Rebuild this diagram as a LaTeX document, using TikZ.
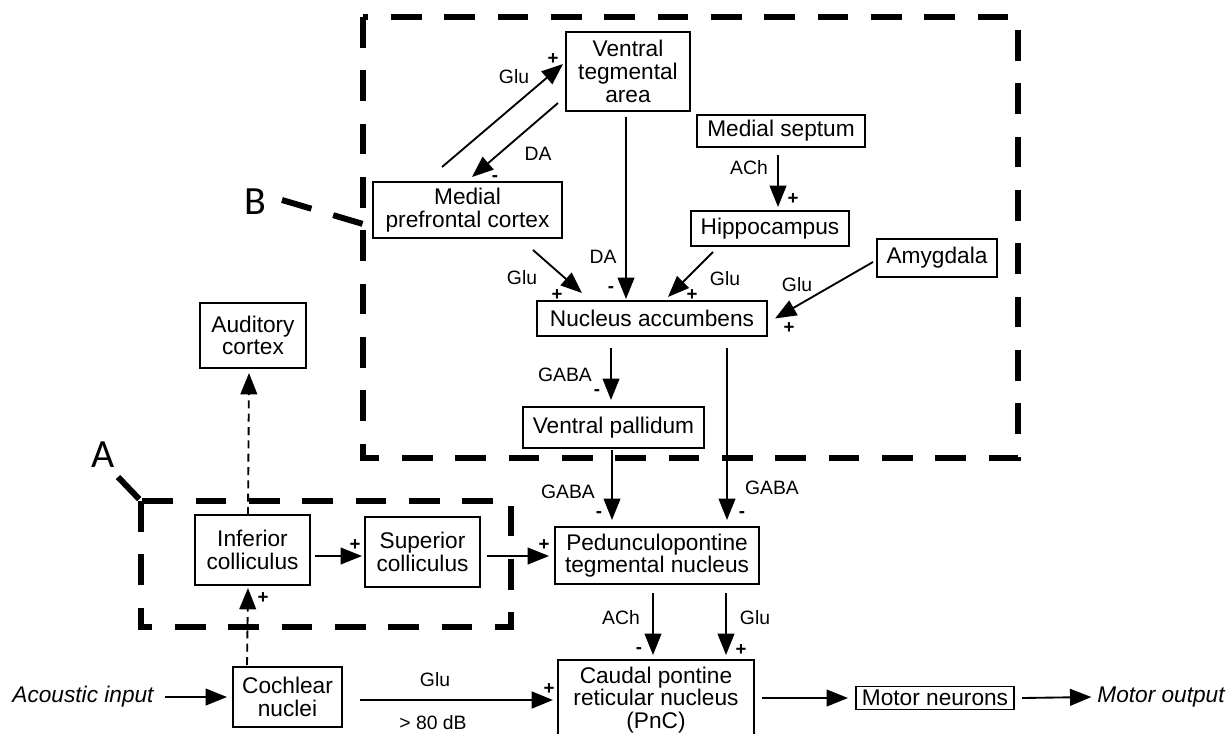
\documentclass[tikz,border=0pt]{standalone}
\usepackage{fontspec}
\setmainfont{Liberation Sans}
\newfontfamily\carl{Carlito}
\usetikzlibrary{arrows.meta,calc}
\newcommand\nodefnt{\fontsize{17}{17}\selectfont}
\newcommand\labfnt{\fontsize{14.5}{14.5}\selectfont}
\newcommand\sgnfnt{\fontsize{14}{14}\selectfont\bfseries}
\newcommand\bigfnt{\carl\fontsize{30}{30}\selectfont}
\tikzset{
  box/.style={draw, line width=1.2pt, align=center, inner sep=0pt, outer sep=0pt, font=\nodefnt},
  sz/.style 2 args={minimum width=#1*0.75pt, minimum height=#2*0.75pt},
  arr/.style={line width=1.4pt, -{Triangle[length=16pt,width=12.5pt]}},
  darr/.style={arr, dash pattern=on 6pt off 4pt},
  lab/.style={font=\labfnt, inner sep=0pt},
  sgn/.style={font=\sgnfnt, inner sep=0pt},
  frame/.style={line width=4.5pt, dash pattern=on 23pt off 17pt},
  bigl/.style={font=\bigfnt, inner sep=0pt},
  ital/.style={font=\nodefnt\itshape, inner sep=0pt, outer sep=0pt},
}
\begin{document}
\begin{tikzpicture}[x=0.75pt,y=-0.75pt]
\useasboundingbox (0,0) rectangle (1230,733);
\clip (0,0) rectangle (1230,733);
\fill[white] (0,0) rectangle (1230,733);

% frames
\coordinate (Btl) at (363,17);
\coordinate (Bbr) at (1018,458);
\coordinate (Atl) at (141,501);
\coordinate (Abr) at (511,627);
\draw[frame] (Btl) rectangle (Bbr);
\draw[frame] (Atl) rectangle (Abr);
\node[bigl] (Blab) at (255,202) {B};
\node[bigl] (Alab) at (103,455) {A};
\coordinate (bp1) at (282,200);
\coordinate (bp2) at (363,224);
\coordinate (ap1) at (118,477);
\coordinate (ap2) at (141,501);
\draw[frame] (bp1) -- (bp2);
\draw[frame] (ap1) -- (ap2);

% nodes
\node[box, sz={124}{79}] (vta) at (628,71.5) {Ventral\\tegmental\\area};
\node[box, sz={189}{56}] (mpfc) at (467.5,210) {Medial\\prefrontal cortex};
\node[box, sz={168}{32}] (ms) at (781,131) {Medial septum};
\node[box, sz={158}{35}] (hip) at (770,228.5) {Hippocampus};
\node[box, sz={120}{38}] (amy) at (937,258) {Amygdala};
\node[box, sz={230}{35}] (nac) at (652,318.5) {Nucleus accumbens};
\node[box, sz={181}{41}] (vp) at (613.5,427.5) {Ventral pallidum};
\node[box, sz={106}{65}] (ac) at (253,335.5) {Auditory\\cortex};
\node[box, sz={115}{70}] (ic) at (252.5,550) {Inferior\\colliculus};
\node[box, sz={115}{70}] (sc) at (422.5,552) {Superior\\colliculus};
\node[box, sz={204}{57}] (ppt) at (657,555.5) {Pedunculopontine\\tegmental nucleus};
\node[box, sz={109}{60}] (coch) at (287.5,697) {Cochlear\\nuclei};
\node[box, sz={196}{80}] (pnc) at (656,700) {Caudal pontine\\reticular nucleus\\(PnC)};
\node[box, sz={158}{23}] (mn) at (935,698) {Motor neurons};
\node[ital] (acin) at (83,697) {Acoustic input};
\node[ital] (mout) at (1161,697) {Motor output};

% connectors
\draw[arr] ($(mpfc.north)+(-25.5,-15)$) -- ($(vta.west)+(-3,-7.5)$);
\draw[arr] ($(vta.west)+(-8,31.5)$) -- ($(mpfc.north)+(4.5,-5)$);
\draw[arr] ($(vta.south)+(-2,6)$) -- ($(nac.north)+(-26,-2)$);
\draw[arr] ($(mpfc.south)+(65.5,12)$) -- ($(nac.north)+(-70,-8)$);
\draw[arr] ($(hip.south)+(-57,6)$) -- ($(nac.north)+(16,-4)$);
\draw[arr] ($(ms.south)+(-3,8)$) -- ($(hip.north)+(8,-4)$);
\draw[arr] ($(amy.west)+(-4,4)$) -- ($(nac.east)+(8,0)$);
\draw[arr] ($(nac.south)+(-41,12)$) -- ($(vp.north)+(-2.5,-7)$);
\draw[arr] ($(vp.south)+(-1.5,2)$) -- ($(ppt.north)+(-45,-7)$);
\draw[arr] ($(nac.south)+(75,12)$) -- ($(ppt.north)+(70,-7)$);
\draw[arr] ($(ic.east)+(5,6)$) -- ($(sc.west)+(-3,4)$);
\draw[arr] ($(sc.east)+(7,4)$) -- ($(ppt.west)+(-6,0.5)$);
\draw[darr] ($(ic.north)+(-4.5,0)$) -- ($(ac.south)+(-4,5)$);
\draw[darr] ($(coch.north)+(-40.5,-2)$) -- ($(ic.south)+(-4.5,3)$);
\draw[arr] ($(acin.east)+(11,0)$) -- ($(coch.west)+(-6,0)$);
\draw[arr, line width=2pt] ($(coch.east)+(18,3)$) -- ($(pnc.west)+(-5,0)$);
\draw[arr] ($(ppt.south)+(-4,9)$) -- ($(pnc.north)+(-3,-5)$);
\draw[arr] ($(ppt.south)+(69,9)$) -- ($(pnc.north)+(70,-5)$);
\draw[arr] ($(pnc.east)+(8,-2)$) -- ($(mn.west)+(-8,0)$);
\draw[arr] ($(mn.east)+(8,0)$) -- ($(mout.west)+(-6,0)$);

% labels
\node[lab] (l1) at (514,77) {Glu};
\node[sgn] (s1) at (553,59) {+};
\node[lab] (l2) at (538,154) {DA};
\node[sgn] (s2) at (495,179) {-};
\node[lab] (l3) at (603,257) {DA};
\node[sgn] (s3) at (611,290) {-};
\node[lab] (l4) at (522,278) {Glu};
\node[sgn] (s4) at (557,295) {+};
\node[lab] (l5) at (725,279) {Glu};
\node[sgn] (s5) at (692,295) {+};
\node[lab] (l6) at (749,168) {ACh};
\node[sgn] (s6) at (793,199) {+};
\node[lab] (l7) at (797,285) {Glu};
\node[sgn] (s7) at (789,328) {+};
\node[lab] (l8) at (565,375) {GABA};
\node[sgn] (s8) at (597,393) {-};
\node[lab] (l9) at (568,492) {GABA};
\node[sgn] (s9) at (599,515) {-};
\node[lab] (l10) at (772,488) {GABA};
\node[sgn] (s10) at (742,515) {-};
\node[sgn] (s11) at (355,545) {+};
\node[sgn] (s12) at (544,545) {+};
\node[sgn] (s13) at (263,598) {+};
\node[lab] (l14) at (435,680) {Glu};
\node[lab] (l14b) at (433,723) {> 80 dB};
\node[sgn] (s14) at (549,689) {+};
\node[lab] (l15) at (621,618) {ACh};
\node[sgn] (s15) at (639,651) {-};
\node[lab] (l16) at (755,618) {Glu};
\node[sgn] (s16) at (741,650) {+};
\end{tikzpicture}
\end{document}
